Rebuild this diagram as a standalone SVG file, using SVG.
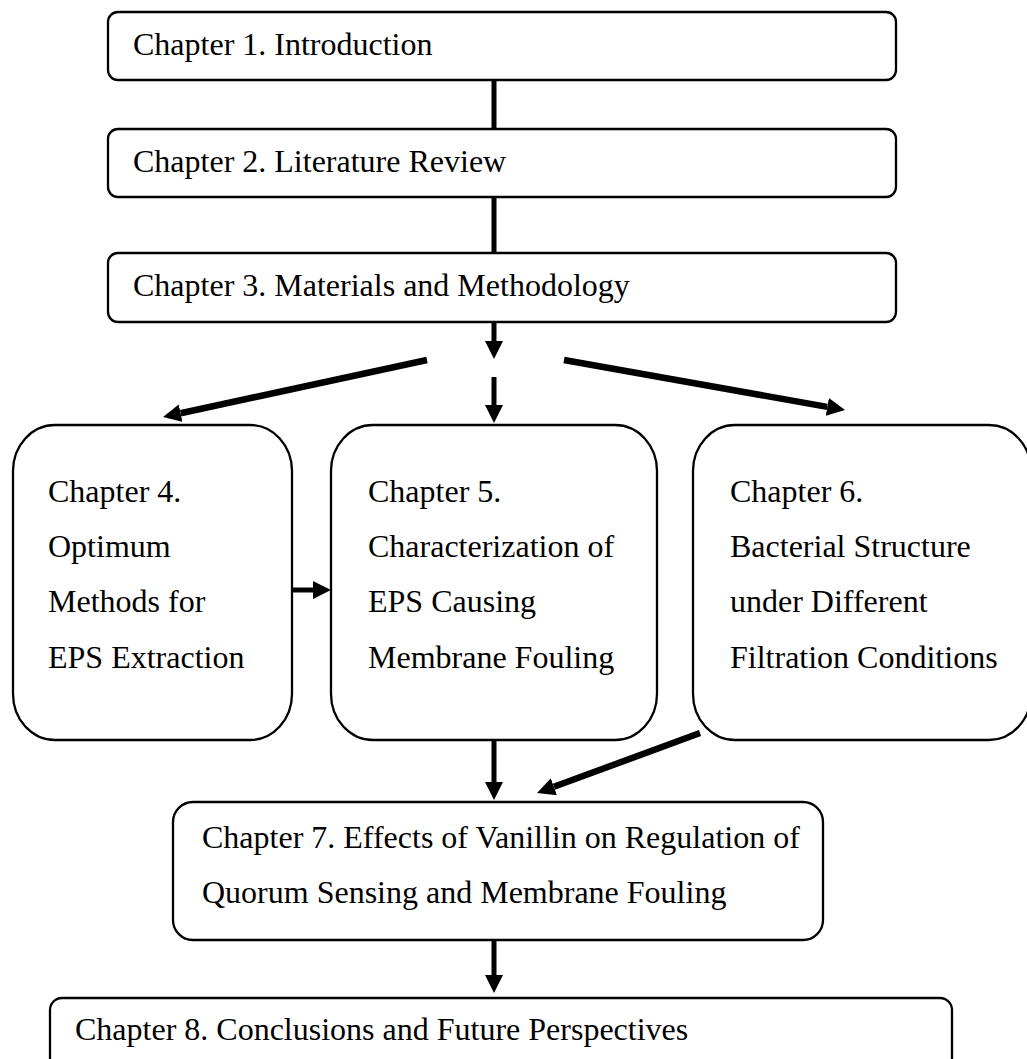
<svg xmlns="http://www.w3.org/2000/svg" width="1027" height="1059" viewBox="0 0 1027 1059">
  <style>
    .box { fill: #ffffff; stroke: #000000; stroke-width: 2.3; }
    .t { font-family: "Liberation Serif", "Times New Roman", serif; font-size: 32px; fill: #000000; }
    .c { stroke: #000000; stroke-width: 5; fill: none; }
    .a { stroke: #000000; stroke-width: 5; fill: none; marker-end: url(#ah); }
    .d { stroke: #000000; stroke-width: 6.5; fill: none; marker-end: url(#ah); }
  </style>
  <defs>
    <marker id="ah" markerUnits="userSpaceOnUse" markerWidth="18" markerHeight="18" viewBox="0 0 18 18" refX="0" refY="9" orient="auto">
      <path d="M0,0 L18,9 L0,18 z" fill="#000000"/>
    </marker>
  </defs>
  <rect width="1027" height="1059" fill="#ffffff"/>

  <g id="connectors">
    <line class="c" x1="494" y1="80" x2="494" y2="129"/>
    <line class="c" x1="494" y1="197" x2="494" y2="253"/>
    <line class="a" x1="494" y1="322" x2="494" y2="341"/>
    <line class="a" x1="494" y1="377" x2="494" y2="405"/>
    <line class="d" x1="427" y1="360" x2="180.6" y2="413.2"/>
    <line class="d" x1="564" y1="360" x2="827.3" y2="406.9"/>
    <line class="a" x1="292" y1="590" x2="313" y2="590"/>
    <line class="a" x1="494" y1="740" x2="494" y2="782"/>
    <line class="d" x1="700" y1="733" x2="553.9" y2="786.8"/>
    <line class="a" x1="494" y1="940" x2="494" y2="975"/>
  </g>

  <g id="ch1">
    <rect class="box" x="108" y="12" width="788" height="68" rx="10" ry="10"/>
    <text class="t" x="133" y="55">Chapter 1. Introduction</text>
  </g>
  <g id="ch2">
    <rect class="box" x="108" y="129" width="788" height="68" rx="10" ry="10"/>
    <text class="t" x="133" y="172">Chapter 2. Literature Review</text>
  </g>
  <g id="ch3">
    <rect class="box" x="108" y="253" width="788" height="69" rx="10" ry="10"/>
    <text class="t" x="133" y="296">Chapter 3. Materials and Methodology</text>
  </g>
  <g id="ch4">
    <rect class="box" x="13" y="425" width="279" height="315" rx="42" ry="46"/>
    <text class="t" x="48" y="502">Chapter 4.</text>
    <text class="t" x="48" y="557">Optimum</text>
    <text class="t" x="48" y="612">Methods for</text>
    <text class="t" x="48" y="668">EPS Extraction</text>
  </g>
  <g id="ch5">
    <rect class="box" x="331" y="425" width="326" height="315" rx="42" ry="46"/>
    <text class="t" x="368" y="502">Chapter 5.</text>
    <text class="t" x="368" y="557">Characterization of</text>
    <text class="t" x="368" y="612">EPS Causing</text>
    <text class="t" x="368" y="668">Membrane Fouling</text>
  </g>
  <g id="ch6">
    <rect class="box" x="693" y="425" width="338" height="315" rx="42" ry="46"/>
    <text class="t" x="730" y="502">Chapter 6.</text>
    <text class="t" x="730" y="557">Bacterial Structure</text>
    <text class="t" x="730" y="612">under Different</text>
    <text class="t" x="730" y="668">Filtration Conditions</text>
  </g>
  <g id="ch7">
    <rect class="box" x="173" y="802" width="650" height="138" rx="20" ry="20"/>
    <text class="t" x="202" y="848">Chapter 7. Effects of Vanillin on Regulation of</text>
    <text class="t" x="202" y="903">Quorum Sensing and Membrane Fouling</text>
  </g>
  <g id="ch8">
    <rect class="box" x="50" y="998" width="902" height="75" rx="12" ry="12"/>
    <text class="t" x="75" y="1040">Chapter 8. Conclusions and Future Perspectives</text>
  </g>
</svg>
